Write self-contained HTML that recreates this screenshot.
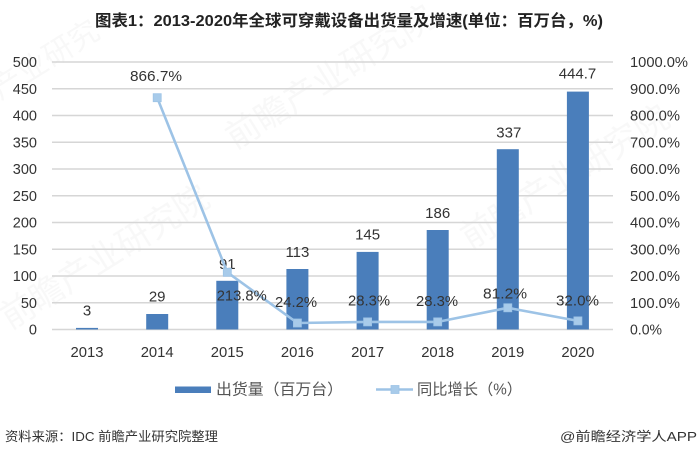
<!DOCTYPE html>
<html>
<head>
<meta charset="utf-8">
<style>
html,body{margin:0;padding:0;background:#fff;}
svg{display:block;}
text{font-family:"Liberation Sans","Noto Sans CJK SC",sans-serif;}
.cjk{font-family:"Liberation Sans","Noto Sans CJK SC",sans-serif;}
</style>
</head>
<body>
<svg width="700" height="455" viewBox="0 0 700 455" xmlns="http://www.w3.org/2000/svg">
<rect width="700" height="455" fill="#fff"/>

<!-- faint watermarks -->
<g fill="#000" opacity="0.03" class="cjk">
  <text x="0" y="0" font-size="34" transform="translate(10,330) rotate(-32)">前瞻产业研究院</text>
  <text x="0" y="0" font-size="34" transform="translate(235,150) rotate(-32)">前瞻产业研究院</text>
  <text x="0" y="0" font-size="34" transform="translate(470,250) rotate(-32)">前瞻产业研究院</text>
  <text x="0" y="0" font-size="30" transform="translate(0,100) rotate(-32)">产业研究</text>
</g>

<!-- title -->
<text x="95" y="26" font-size="16" font-weight="bold" fill="#222" class="cjk" textLength="508" lengthAdjust="spacingAndGlyphs">图表1：2013-2020年全球可穿戴设备出货量及增速(单位：百万台，%)</text>

<!-- gridlines -->
<g stroke="#d6d6d6" stroke-width="1.5">
  <line x1="52" y1="329.5" x2="613" y2="329.5"/>
  <line x1="52" y1="302.75" x2="613" y2="302.75"/>
  <line x1="52" y1="276" x2="613" y2="276"/>
  <line x1="52" y1="249.25" x2="613" y2="249.25"/>
  <line x1="52" y1="222.5" x2="613" y2="222.5"/>
  <line x1="52" y1="195.75" x2="613" y2="195.75"/>
  <line x1="52" y1="169" x2="613" y2="169"/>
  <line x1="52" y1="142.25" x2="613" y2="142.25"/>
  <line x1="52" y1="115.5" x2="613" y2="115.5"/>
  <line x1="52" y1="88.75" x2="613" y2="88.75"/>
  <line x1="52" y1="62" x2="613" y2="62"/>
</g>

<!-- left axis labels -->
<g font-size="14.5" fill="#333" text-anchor="end">
  <text x="37" y="334.5">0</text>
  <text x="37" y="307.75">50</text>
  <text x="37" y="281">100</text>
  <text x="37" y="254.25">150</text>
  <text x="37" y="227.5">200</text>
  <text x="37" y="200.75">250</text>
  <text x="37" y="174">300</text>
  <text x="37" y="147.25">350</text>
  <text x="37" y="120.5">400</text>
  <text x="37" y="93.75">450</text>
  <text x="37" y="67">500</text>
</g>

<!-- right axis labels -->
<g font-size="14.5" fill="#333">
  <text x="630" y="334.5" textLength="32" lengthAdjust="spacingAndGlyphs">0.0%</text>
  <text x="630" y="307.75" textLength="50" lengthAdjust="spacingAndGlyphs">100.0%</text>
  <text x="630" y="281" textLength="50" lengthAdjust="spacingAndGlyphs">200.0%</text>
  <text x="630" y="254.25" textLength="50" lengthAdjust="spacingAndGlyphs">300.0%</text>
  <text x="630" y="227.5" textLength="50" lengthAdjust="spacingAndGlyphs">400.0%</text>
  <text x="630" y="200.75" textLength="50" lengthAdjust="spacingAndGlyphs">500.0%</text>
  <text x="630" y="174" textLength="50" lengthAdjust="spacingAndGlyphs">600.0%</text>
  <text x="630" y="147.25" textLength="50" lengthAdjust="spacingAndGlyphs">700.0%</text>
  <text x="630" y="120.5" textLength="50" lengthAdjust="spacingAndGlyphs">800.0%</text>
  <text x="630" y="93.75" textLength="50" lengthAdjust="spacingAndGlyphs">900.0%</text>
  <text x="630" y="67" textLength="58" lengthAdjust="spacingAndGlyphs">1000.0%</text>
</g>

<!-- bars -->
<g fill="#4a7ebb">
  <rect x="76" y="327.9" width="22" height="1.6"/>
  <rect x="146.2" y="314" width="22" height="15.5"/>
  <rect x="216.3" y="280.8" width="22" height="48.7"/>
  <rect x="286.4" y="269" width="22" height="60.5"/>
  <rect x="356.6" y="251.9" width="22" height="77.6"/>
  <rect x="426.7" y="230" width="22" height="99.5"/>
  <rect x="496.8" y="149.2" width="22" height="180.3"/>
  <rect x="566.9" y="91.6" width="22" height="237.9"/>
</g>

<!-- bar labels -->
<g font-size="15" fill="#333" text-anchor="middle">
  <text x="87" y="315.7">3</text>
  <text x="157.2" y="301.7">29</text>
  <text x="227.3" y="269">91</text>
  <text x="297.4" y="256.8">113</text>
  <text x="367.6" y="239.3">145</text>
  <text x="437.7" y="218.2">186</text>
  <text x="508.8" y="137.6">337</text>
  <text x="577.5" y="78.5">444.7</text>
</g>

<!-- line -->
<polyline fill="none" stroke="#9dc3e6" stroke-width="2.6" stroke-linejoin="round"
  points="157.2,97.7 227.3,272.3 297.4,323 367.6,321.9 437.7,321.9 507.8,307.8 577.9,320.9"/>
<g fill="#a8cbea" stroke="#9dc3e6" stroke-width="0.8">
  <rect x="153.2" y="93.7" width="8" height="8"/>
  <rect x="223.3" y="268.3" width="8" height="8"/>
  <rect x="293.4" y="319" width="8" height="8"/>
  <rect x="363.6" y="317.9" width="8" height="8"/>
  <rect x="433.7" y="317.9" width="8" height="8"/>
  <rect x="503.8" y="303.8" width="8" height="8"/>
  <rect x="573.9" y="316.9" width="8" height="8"/>
</g>

<!-- line labels -->
<g font-size="15" fill="#333" text-anchor="middle">
  <text x="156" y="81" textLength="52" lengthAdjust="spacingAndGlyphs">866.7%</text>
  <text x="241.7" y="300.3" textLength="50" lengthAdjust="spacingAndGlyphs">213.8%</text>
  <text x="296" y="307" textLength="42" lengthAdjust="spacingAndGlyphs">24.2%</text>
  <text x="369" y="305.3" textLength="42" lengthAdjust="spacingAndGlyphs">28.3%</text>
  <text x="437" y="305.8" textLength="42" lengthAdjust="spacingAndGlyphs">28.3%</text>
  <text x="505" y="298.5" textLength="44" lengthAdjust="spacingAndGlyphs">81.2%</text>
  <text x="577.5" y="305.3" textLength="43" lengthAdjust="spacingAndGlyphs">32.0%</text>
</g>

<!-- x axis labels -->
<g font-size="15" fill="#333" text-anchor="middle">
  <text x="87" y="357" textLength="33" lengthAdjust="spacingAndGlyphs">2013</text>
  <text x="157.2" y="357" textLength="33" lengthAdjust="spacingAndGlyphs">2014</text>
  <text x="227.3" y="357" textLength="33" lengthAdjust="spacingAndGlyphs">2015</text>
  <text x="297.4" y="357" textLength="33" lengthAdjust="spacingAndGlyphs">2016</text>
  <text x="367.6" y="357" textLength="33" lengthAdjust="spacingAndGlyphs">2017</text>
  <text x="437.7" y="357" textLength="33" lengthAdjust="spacingAndGlyphs">2018</text>
  <text x="507.8" y="357" textLength="33" lengthAdjust="spacingAndGlyphs">2019</text>
  <text x="577.9" y="357" textLength="33" lengthAdjust="spacingAndGlyphs">2020</text>
</g>

<!-- legend -->
<rect x="175" y="386.5" width="36" height="6.5" fill="#4a7ebb"/>
<text x="216" y="394.5" font-size="15.5" fill="#555" class="cjk" textLength="127" lengthAdjust="spacingAndGlyphs">出货量（百万台）</text>
<line x1="376" y1="389.5" x2="413" y2="389.5" stroke="#9dc3e6" stroke-width="2.6"/>
<rect x="391" y="385.5" width="8" height="8" fill="#a8cbea" stroke="#9dc3e6" stroke-width="0.8"/>
<text x="417" y="394.5" font-size="15.5" fill="#555" class="cjk" textLength="105" lengthAdjust="spacingAndGlyphs">同比增长（%）</text>

<!-- footer -->
<text x="5" y="441" font-size="13" fill="#333" class="cjk" textLength="213" lengthAdjust="spacingAndGlyphs">资料来源：IDC 前瞻产业研究院整理</text>
<text x="697" y="441" font-size="13" fill="#333" class="cjk" text-anchor="end" textLength="137" lengthAdjust="spacingAndGlyphs">@前瞻经济学人APP</text>
</svg>
</body>
</html>
